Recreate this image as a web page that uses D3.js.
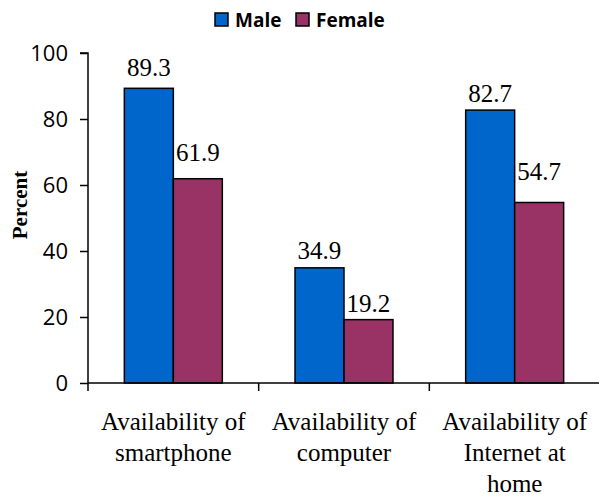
<!DOCTYPE html>
<html>
<head>
<meta charset="utf-8">
<script src="https://cdn.jsdelivr.net/npm/d3@7"></script>
<style>
  html, body { margin: 0; padding: 0; background: #fff; }
  svg { display: block; }
</style>
</head>
<body>
<div id="chart"></div>
<script>
// ---- data ----
const categories = [
  ["Availability of", "smartphone"],
  ["Availability of", "computer"],
  ["Availability of", "Internet at", "home"]
];
const seriesNames = ["Male", "Female"];
const maleValues = [89.3, 34.9, 82.7];
const femaleValues = [61.9, 19.2, 54.7];
const yTicks = [0, 20, 40, 60, 80, 100];
// extra lift of some value labels above their bar (px), as in the original
const labelLift = [[4, 10], [1, 0], [0, 14]];

const colors = { Male: "#0066CC", Female: "#993366" };

const width = 599, height = 497;
const margin = { left: 88, right: 0, top: 53, bottom: 114 };

const svg = d3.select("#chart").append("svg")
  .attr("width", width)
  .attr("height", height);

const y = d3.scaleLinear().domain([0, 100]).range([height - margin.bottom, margin.top]);

const x0 = d3.scaleBand()
  .domain(d3.range(categories.length))
  .range([margin.left, 600])
  .padding(0);

const x1 = d3.scaleBand()
  .domain(seriesNames)
  .range([0, x0.bandwidth()])
  .paddingInner(0)
  .paddingOuter(0.742);

const rows = categories.map((c, i) => ({
  i,
  values: [
    { name: "Male", v: maleValues[i] },
    { name: "Female", v: femaleValues[i] }
  ]
}));

// bars
const groups = svg.append("g").selectAll("g")
  .data(rows)
  .join("g")
  .attr("transform", d => `translate(${x0(d.i)},0)`);

groups.selectAll("rect")
  .data(d => d.values)
  .join("rect")
  .attr("x", d => x1(d.name))
  .attr("y", d => y(d.v))
  .attr("width", x1.bandwidth())
  .attr("height", d => y(0) - y(d.v))
  .attr("fill", d => colors[d.name])
  .attr("stroke", "#000")
  .attr("stroke-width", 1.5);

// value labels
groups.selectAll("text.val")
  .data(d => d.values.map((v, j) => ({ ...v, lift: labelLift[d.i][j] })))
  .join("text")
  .attr("class", "val")
  .attr("x", d => x1(d.name) + x1.bandwidth() / 2)
  .attr("y", d => y(d.v) - 8 - d.lift)
  .attr("text-anchor", "middle")
  .style("font-family", "'Liberation Serif', 'Times New Roman', serif")
  .style("font-size", "25px")
  .attr("fill", "#000")
  .text(d => d.v.toFixed(1));

// y axis
const yAxis = d3.axisLeft(y).tickValues(yTicks).tickSize(8).tickPadding(12);
const gy = svg.append("g")
  .attr("transform", `translate(${margin.left},0)`)
  .call(yAxis);
gy.select(".domain").attr("stroke", "#000").attr("stroke-width", 1.5)
  .attr("d", `M-8,${y(100)}H0V${y(0)}`);
gy.selectAll(".tick line").attr("stroke", "#000").attr("stroke-width", 1.5);
gy.selectAll(".tick text")
  .style("font-family", "'Open Sans', sans-serif")
  .style("font-size", "22px")
  .attr("fill", "#000");

// x axis
const gx = svg.append("g")
  .attr("transform", `translate(0,${y(0)})`);
gx.append("line")
  .attr("x1", margin.left).attr("x2", width)
  .attr("stroke", "#000").attr("stroke-width", 1.5);
gx.selectAll("line.tk")
  .data(d3.range(categories.length + 1))
  .join("line")
  .attr("class", "tk")
  .attr("x1", i => i < categories.length ? x0(i) : 600)
  .attr("x2", i => i < categories.length ? x0(i) : 600)
  .attr("y1", 0).attr("y2", 8)
  .attr("stroke", "#000").attr("stroke-width", 1.5);

const catText = gx.selectAll("text.cat")
  .data(categories)
  .join("text")
  .attr("class", "cat")
  .attr("text-anchor", "middle")
  .style("font-family", "'Liberation Serif', 'Times New Roman', serif")
  .style("font-size", "25px")
  .attr("fill", "#000");
catText.selectAll("tspan")
  .data((d, i) => d.map(line => ({ line, i })))
  .join("tspan")
  .attr("x", d => x0(d.i) + x0.bandwidth() / 2)
  .attr("y", (d, k) => 46.5 + k * 31)
  .text(d => d.line);

// y title
svg.append("text")
  .attr("transform", "translate(27,205) rotate(-90)")
  .attr("text-anchor", "middle")
  .style("font-family", "'Liberation Serif', 'Times New Roman', serif")
  .style("font-size", "21px")
  .style("font-weight", "bold")
  .attr("fill", "#000")
  .text("Percent");

// legend
const legendX = [215, 296];
const legend = svg.append("g").selectAll("g")
  .data(seriesNames)
  .join("g")
  .attr("transform", (d, i) => `translate(${legendX[i]},13)`);
legend.append("rect")
  .attr("width", 13).attr("height", 13)
  .attr("fill", d => colors[d])
  .attr("stroke", "#000").attr("stroke-width", 1.5);
legend.append("text")
  .attr("x", 20).attr("y", 14)
  .style("font-family", "'Open Sans', sans-serif")
  .style("font-size", "19px")
  .style("font-weight", "bold")
  .attr("fill", "#000")
  .text(d => d);
</script>
</body>
</html>
